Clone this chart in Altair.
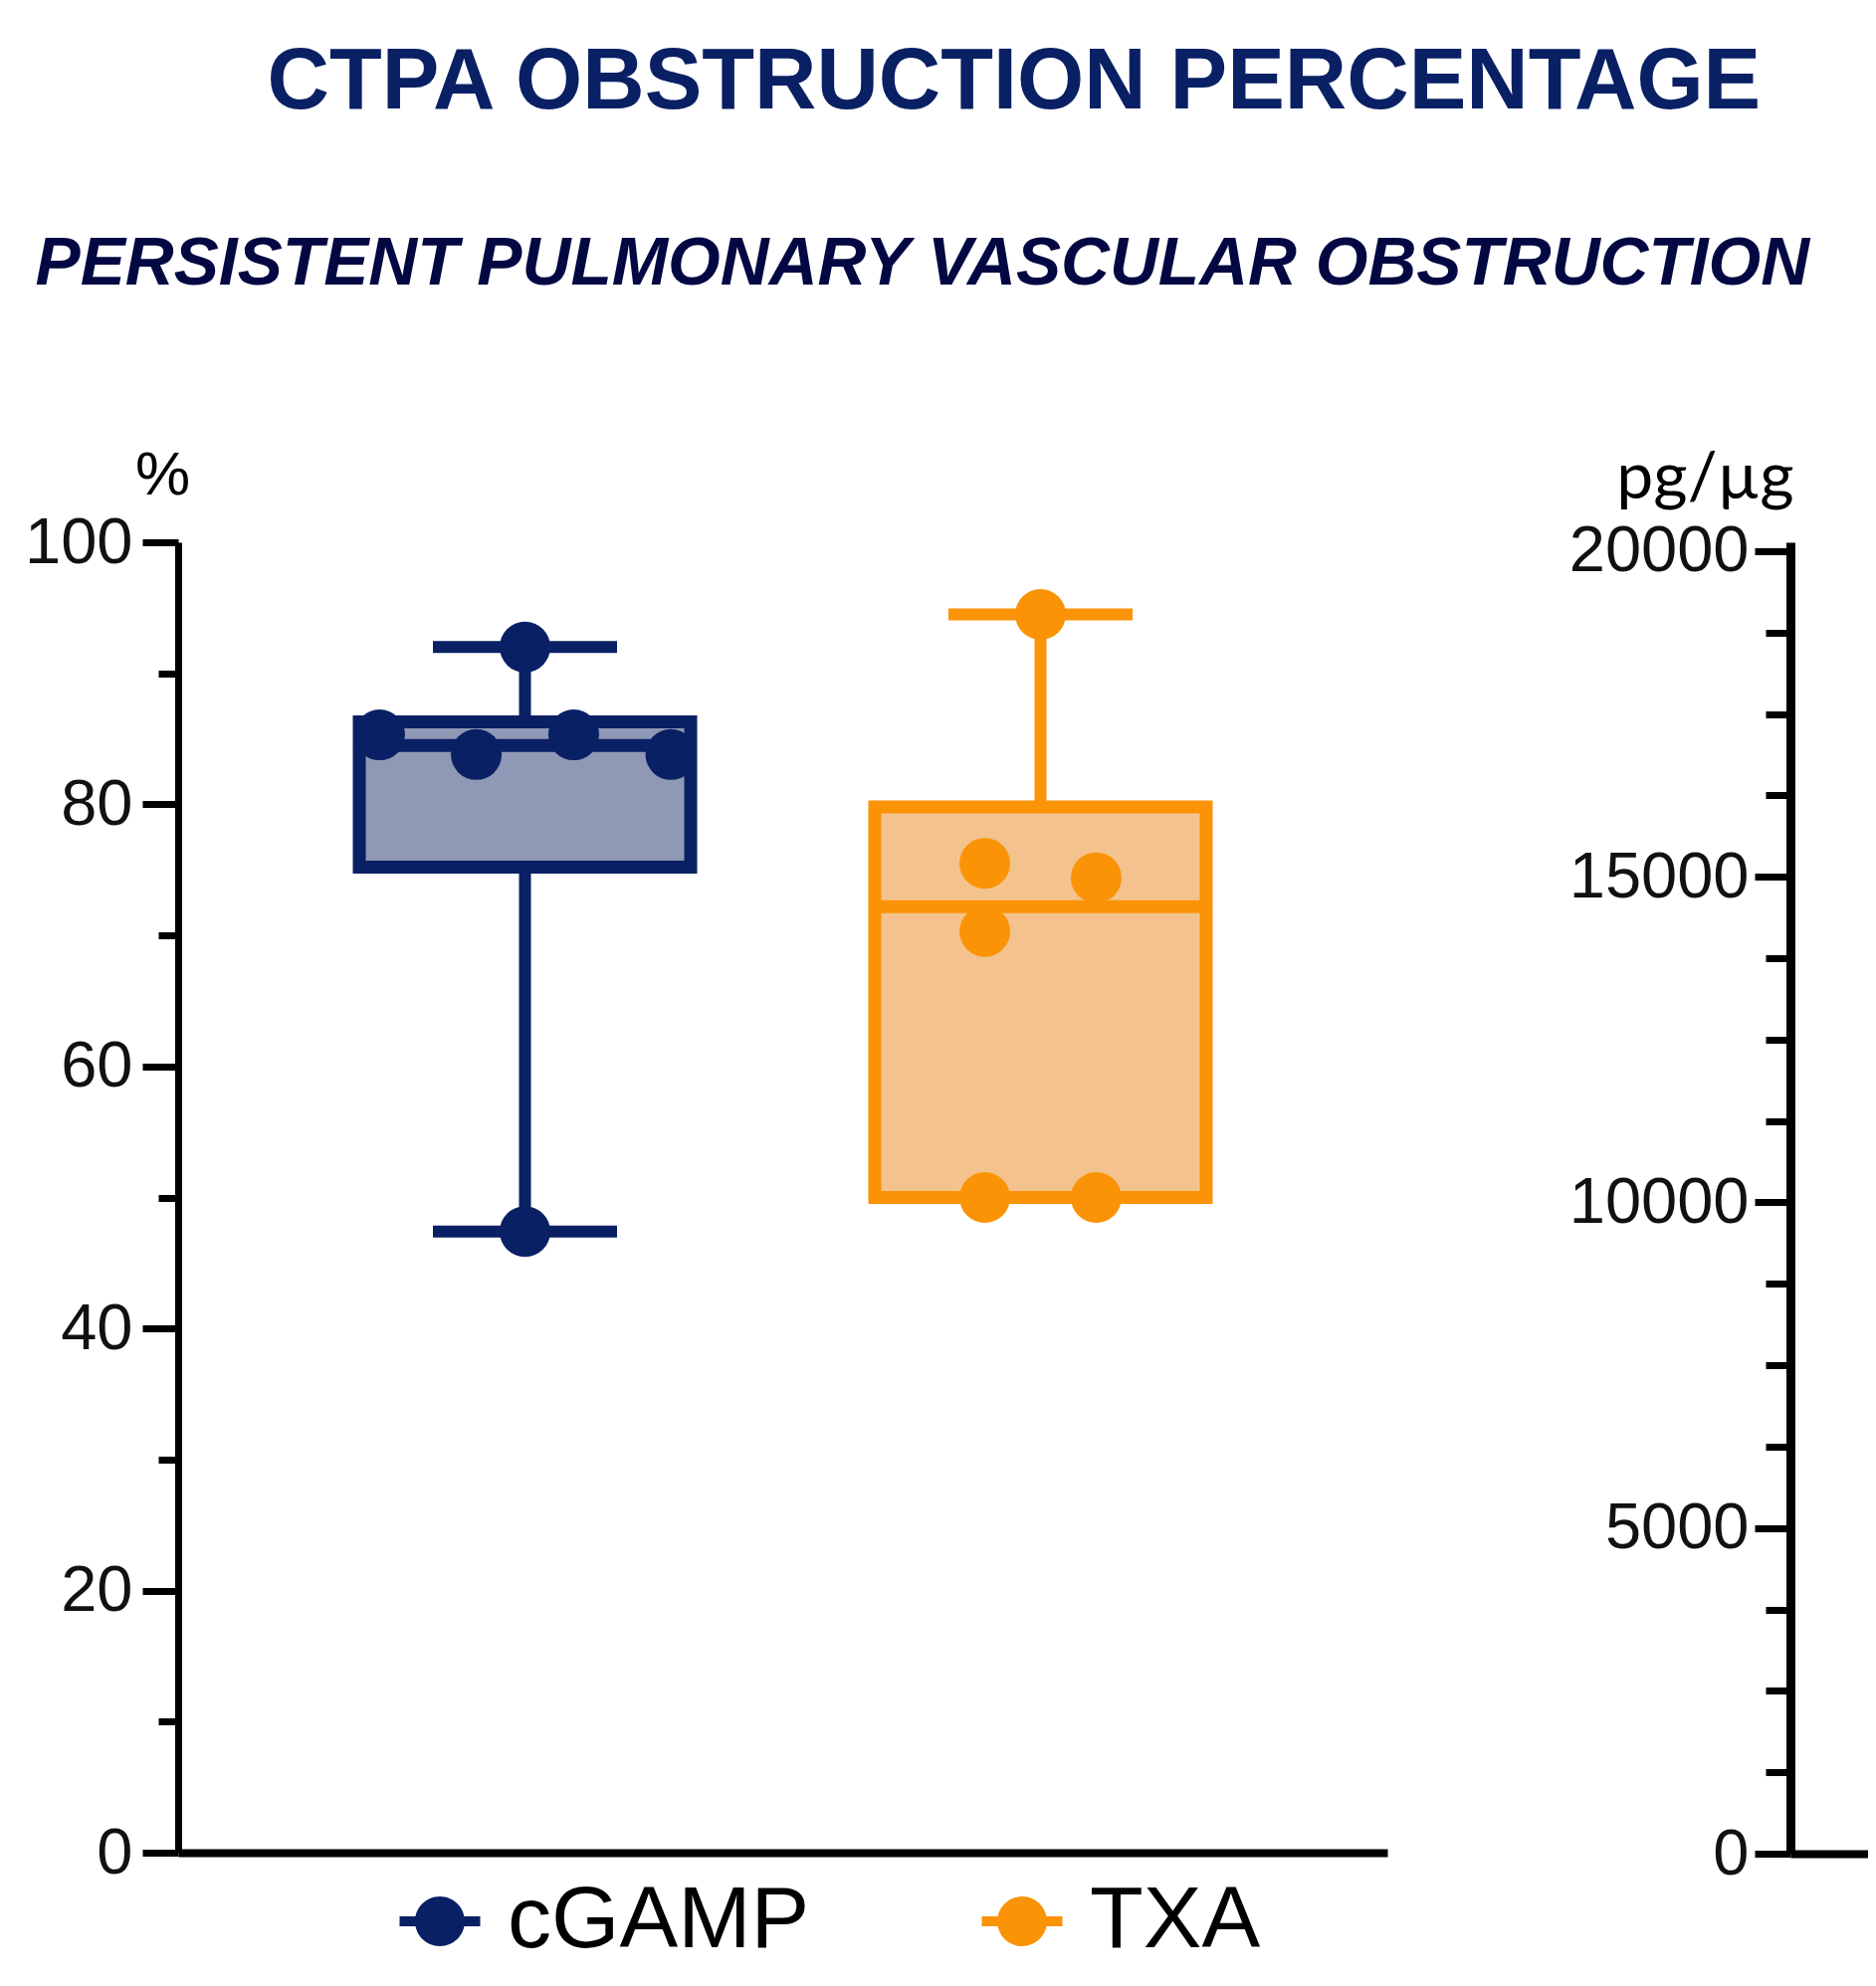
import altair as alt
import pandas as pd

# ---------------- data ----------------
groups = ["cGAMP", "TXA"]

cgamp_values = [47.4, 85.3, 83.8, 85.3, 83.8, 92.0]
txa_values = [50.0, 50.0, 70.3, 74.4, 75.5, 94.5]

stat_min = [47.4, 50.0]
stat_q1 = [75.2, 50.0]
stat_median = [84.5, 72.2]
stat_q3 = [86.3, 79.8]
stat_max = [92.0, 94.5]

left_ticks = list(range(0, 101, 10))
right_ticks = list(range(0, 20001, 1250))
right_range = [0, 20137.5]

# ---------------- layout / style ----------------
# horizontal spread of the scatter dots inside a column (fraction of half a band)
cgamp_spread = [0.0, -0.564, -0.189, 0.189, 0.566, 0.0]
txa_spread = [-0.216, 0.216, -0.216, 0.216, -0.216, 0.0]

line_colors = ["#0a2064", "#fa9306"]
fill_colors = ["#8f98b4", "#f4c38d"]
TITLE_NAVY = "#0a2064"
SUB_NAVY = "#030842"

LEFT_W, LEFT_H = 1215, 1317
RIGHT_W, RIGHT_H = 78, 1318
BAND = 518

box_df = pd.DataFrame({
    "group": groups, "min": stat_min, "q1": stat_q1,
    "median": stat_median, "q3": stat_q3, "max": stat_max,
})
pts_df = pd.DataFrame({
    "group": ["cGAMP"] * len(cgamp_values) + ["TXA"] * len(txa_values),
    "value": cgamp_values + txa_values,
    "spread": cgamp_spread + txa_spread,
})

x_enc = alt.X(
    "group:N", sort=groups,
    scale=alt.Scale(domain=groups, paddingInner=0, paddingOuter=0.1728),
    axis=alt.Axis(title=None, labels=False, ticks=False, grid=False,
                  domainColor="black", domainWidth=8),
)

y_axis = alt.Axis(
    values=left_ticks, title="%", grid=False,
    labelExpr="datum.value % 20 === 0 ? datum.label : ''",
    labelFont="Liberation Sans", labelFontSize=65, labelColor="#111111",
    labelPadding=10, labelLimit=400,
    tickSize={"condition": {"test": "datum.value % 20 === 0", "value": 36}, "value": 20},
    tickWidth=7, tickColor="black", domainColor="black", domainWidth=7,
    titleAngle=0, titleAlign="center", titleBaseline="alphabetic",
    titleX=-16, titleY=-49, titleFont="Liberation Sans", titleFontSize=62,
    titleFontWeight="normal", titleColor="black",
)
y_scale = alt.Scale(domain=[0, 100], nice=False)


def Y(field):
    return alt.Y(f"{field}:Q", scale=y_scale, axis=y_axis)


legend_symbol = ("M-1,-0.123 L1,-0.123 L1,0.123 L-1,0.123 Z "
                 "M0.617,0 A0.617,0.617 0 1,1 -0.617,0 A0.617,0.617 0 1,1 0.617,0 Z")

color_enc = alt.Color(
    "group:N", sort=groups,
    scale=alt.Scale(domain=groups, range=line_colors),
    legend=alt.Legend(
        title=None, orient="none", direction="horizontal",
        legendX=219, legendY=1342, padding=0,
        symbolType=legend_symbol, symbolSize=6561, symbolStrokeWidth=0,
        labelFont="Liberation Sans", labelFontSize=88, labelColor="black",
        labelOffset=24, columnPadding=169, labelLimit=600,
    ),
)

base_box = alt.Chart(box_df)

# one filled box per group (styles per group, no extra colour scales)
box_layers = [
    base_box.transform_filter(alt.datum.group == g)
    .mark_bar(width=333, strokeWidth=13, fill=fc, stroke=lc, opacity=1)
    .encode(x=x_enc, y=Y("q1"), y2="q3")
    for g, fc, lc in zip(groups, fill_colors, line_colors)
]

points = alt.Chart(pts_df).mark_circle(size=2600, opacity=1).encode(
    x=x_enc,
    xOffset=alt.XOffset("spread:Q", scale=alt.Scale(domain=[-1, 1], range=[0, BAND])),
    y=Y("value"),
    color=color_enc,
)

medians = base_box.mark_tick(size=333, thickness=13, opacity=1).encode(
    x=x_enc, y=Y("median"), color=color_enc)

upper = base_box.mark_rule(strokeWidth=12).encode(
    x=x_enc, y=Y("q3"), y2="max", color=color_enc)
lower = base_box.mark_rule(strokeWidth=12).encode(
    x=x_enc, y=Y("min"), y2="q1", color=color_enc)

cap_hi = base_box.mark_tick(size=185, thickness=12, opacity=1).encode(
    x=x_enc, y=Y("max"), color=color_enc)
cap_lo = base_box.mark_tick(size=185, thickness=12, opacity=1).encode(
    x=x_enc, y=Y("min"), color=color_enc)

left = alt.layer(*box_layers, points, medians, upper, lower, cap_hi, cap_lo).properties(
    width=LEFT_W, height=LEFT_H)

# ---------------- right (partially visible) panel ----------------
right_df = pd.DataFrame({"level": right_range, "pos": [0, 0]})
right = alt.Chart(right_df).mark_point(opacity=0).encode(
    x=alt.X("pos:Q", scale=alt.Scale(domain=[0, 1]),
            axis=alt.Axis(title=None, labels=False, ticks=False, grid=False,
                          domainColor="black", domainWidth=8)),
    y=alt.Y("level:Q", scale=alt.Scale(domain=right_range, nice=False),
            axis=alt.Axis(
                values=right_ticks, title="pg/µg", grid=False, format="d",
                labelExpr="datum.value % 5000 === 0 ? datum.label : ''",
                labelFont="Liberation Sans", labelFontSize=65, labelColor="#111111",
                labelPadding=6, labelLimit=400,
                tickSize={"condition": {"test": "datum.value % 5000 === 0", "value": 36}, "value": 25},
                tickWidth=7, tickColor="black", domainColor="black", domainWidth=9,
                titleAngle=0, titleAlign="center", titleBaseline="alphabetic",
                titleX=-86, titleY=-45, titleFont="Lato", titleFontSize=66,
                titleFontWeight="normal", titleColor="black",
            )),
).properties(width=RIGHT_W, height=RIGHT_H)

inner = alt.hconcat(left, right, spacing=182).resolve_scale(
    color="independent"
).resolve_legend(color="independent").properties(
    title=alt.TitleParams(
        "PERSISTENT PULMONARY VASCULAR OBSTRUCTION", anchor="start",
        font="Liberation Sans", fontSize=67.7, fontWeight="bold", fontStyle="italic",
        color=SUB_NAVY, offset=145, dx=11,
    )
)

chart = alt.vconcat(inner).resolve_scale(
    color="independent"
).properties(
    title=alt.TitleParams(
        "CTPA OBSTRUCTION PERCENTAGE", anchor="start",
        font="Liberation Sans", fontSize=86.4, fontWeight="bold",
        color=TITLE_NAVY, offset=105, dx=244,
    ),
    padding={"left": 16, "top": 31, "right": 0, "bottom": 5},
).configure_view(stroke=None).configure_axis(grid=False)

chart.save("out.html", embed_options={"renderer": "svg", "actions": False})
